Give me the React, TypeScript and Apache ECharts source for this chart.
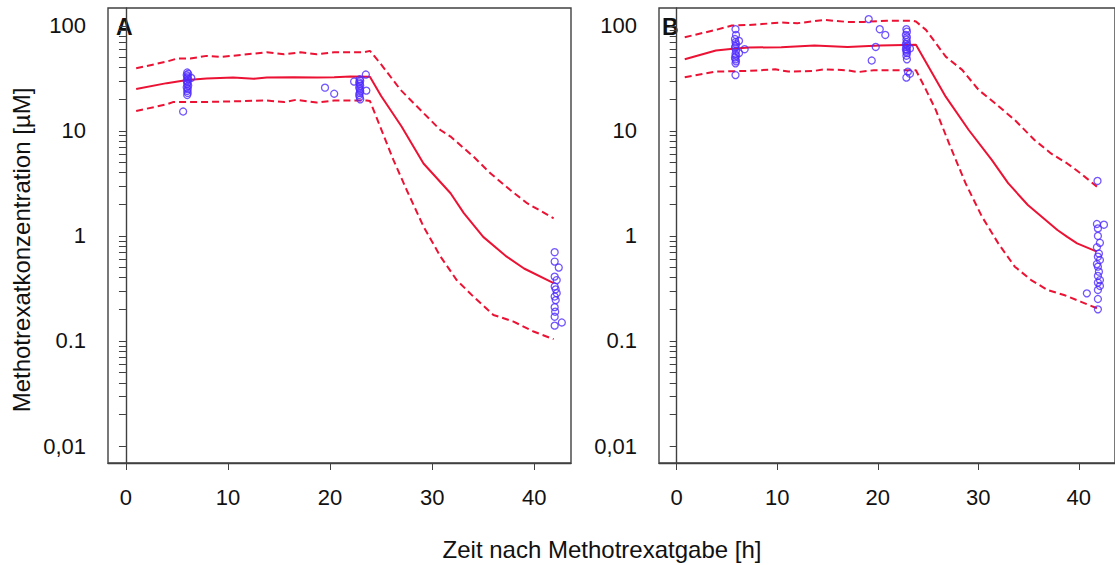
import { useEffect, useRef } from 'react';
import * as echarts from 'echarts';

// Axis ticks
const timeTicks = [0, 10, 20, 30, 40];
const concTicks = [0.01, 0.1, 1, 10, 100];
const concTickLabels = ['0,01', '0.1', '1', '10', '100'];
const concMinorTicks = [
  0.01, 0.02, 0.03, 0.04, 0.05, 0.06, 0.07, 0.08, 0.09,
  0.1, 0.2, 0.3, 0.4, 0.5, 0.6, 0.7, 0.8, 0.9,
  1, 2, 3, 4, 5, 6, 7, 8, 9,
  10, 20, 30, 40, 50, 60, 70, 80, 90,
  100,
];

// Panel A – model prediction (median, 5th and 95th percentile), [h, µM]
const aMedian = [
  [1, 25.1], [4, 28.5], [6, 30.6], [7.9, 31.5], [10.5, 32.2], [12.5, 31.3], [13.8, 32.2],
  [16.4, 32.5], [18.7, 32.2], [20.4, 32.5], [22, 33.0], [23.9, 32.8], [25, 21.5],
  [27, 11.0], [29.15, 4.9], [31.8, 2.55], [33.1, 1.65], [35, 0.98], [37.3, 0.635],
  [39, 0.49], [41.9, 0.355],
];
const aUpper = [
  [1, 39.5], [4, 45.7], [5, 48.9], [6.3, 48.9], [7.9, 51.8], [9.2, 50.6], [11.4, 53],
  [13.8, 56.1], [15.5, 53.7], [17.1, 56], [18.7, 53.7], [20.4, 56], [22, 56], [23.3, 56],
  [23.9, 57.8], [24.9, 44.2], [26.9, 24.6], [29.15, 14.8], [30.8, 10.2], [31.8, 8.83],
  [34.05, 5.69], [35.7, 3.95], [37.65, 2.74], [39.3, 2.05], [41.9, 1.47],
];
const aLower = [
  [1, 15.5], [4, 17.9], [4.6, 18.8], [7.25, 18.8], [10.5, 19.1], [13.8, 19.5], [15.5, 18.8],
  [16.7, 19.8], [18.7, 18.6], [20.4, 19.5], [23.6, 19.5], [23.9, 19.3], [24.9, 11.0],
  [26.2, 5.3], [27.5, 2.74], [29.15, 1.23], [30.8, 0.64], [32.4, 0.38], [34.05, 0.264],
  [36, 0.177], [37.97, 0.153], [39.93, 0.123], [41.9, 0.104],
];
// Panel A – measured concentrations
const aObserved = [
  [6.0, 36], [6.1, 35], [5.95, 34], [6.05, 33], [6.0, 32], [6.1, 31], [5.95, 30], [6.05, 29],
  [6.0, 28], [6.1, 27], [5.95, 26], [6.05, 25], [6.0, 24], [6.05, 23], [6.0, 22], [6.4, 32],
  [5.6, 15.3],
  [19.5, 25.8], [20.4, 22.6],
  [22.35, 29.5], [23.5, 34.4], [23.55, 24.2], [22.9, 31], [22.95, 30], [22.85, 29], [22.9, 28],
  [22.95, 27], [22.85, 26], [22.9, 25], [22.95, 24], [22.9, 23], [22.85, 22], [22.9, 21],
  [22.95, 20],
  [42.0, 0.7], [42.0, 0.57], [42.4, 0.5], [42.0, 0.41], [42.2, 0.38], [42.0, 0.33],
  [42.1, 0.31], [42.2, 0.285], [42.0, 0.265], [42.1, 0.245], [42.0, 0.21], [42.05, 0.19],
  [42.0, 0.17], [42.7, 0.15], [42.0, 0.14],
];

// Panel B – model prediction
const bMedian = [
  [0.8, 48.2], [3.9, 58.2], [5.85, 60.8], [7.2, 62.2], [10.4, 62.7], [13.7, 64.9], [17, 63.1],
  [20.2, 64.9], [23.8, 66], [26.76, 21.2], [29.05, 10.2], [31.34, 5.3], [32.97, 3.18],
  [34.93, 1.97], [37.87, 1.14], [38.85, 0.98], [39.83, 0.85], [41.8, 0.71],
];
const bUpper = [
  [0.8, 78], [3.9, 91.6], [5.5, 100.7], [7.2, 102], [10.4, 107.5], [12, 106], [14.7, 114],
  [17, 109], [18.6, 109], [20.9, 112], [23.5, 112], [23.8, 110], [24.8, 91.6], [26.76, 51],
  [28.4, 38.1], [30.03, 24.6], [31.67, 18.3], [33.63, 12.7], [35.59, 8.2], [37.23, 6.1],
  [38.85, 4.9], [40.17, 3.95], [41.8, 2.95],
];
const bLower = [
  [0.8, 32.4], [3.9, 36.7], [7.2, 37.3], [9.8, 38.6], [11.1, 36.7], [13.7, 37.3], [14.7, 38.6],
  [17, 37.8], [18, 36.3], [19.6, 37.8], [22.3, 37.8], [23.8, 37.8], [24.8, 24.6],
  [25.78, 15.8], [27.09, 7.6], [28.73, 3.18], [30.36, 1.53], [31.99, 0.85], [33.63, 0.51],
  [35.26, 0.38], [36.89, 0.306], [38.53, 0.274], [40.17, 0.237], [41.8, 0.205],
];
// Panel B – measured concentrations
const bObserved = [
  [5.85, 93], [5.9, 82], [5.8, 75], [6.2, 72], [5.85, 70], [5.9, 67], [5.85, 64], [5.8, 62],
  [6.76, 60], [5.9, 58], [6.2, 55], [5.85, 54], [5.9, 52], [5.8, 50], [5.85, 48], [5.9, 46],
  [5.85, 44], [5.85, 34],
  [19.1, 116], [20.2, 93], [20.75, 82], [19.8, 63], [19.4, 46.8],
  [22.85, 93], [22.9, 88], [22.8, 82], [22.9, 78], [22.85, 74], [22.9, 70], [22.8, 67],
  [22.95, 65], [22.85, 63], [23.2, 61], [22.8, 60], [22.9, 59], [22.85, 57], [22.9, 55],
  [22.85, 52], [22.9, 48], [22.85, 32.2], [23.0, 36.7], [23.2, 35],
  [41.86, 3.34], [41.8, 1.3], [42.5, 1.28], [41.9, 1.18], [41.9, 1.0], [42.1, 0.86],
  [41.8, 0.78], [42.0, 0.68], [41.9, 0.635], [42.1, 0.59], [41.8, 0.54], [41.9, 0.51],
  [42.0, 0.457], [41.9, 0.416], [42.1, 0.38], [41.9, 0.36], [42.1, 0.334], [41.9, 0.306],
  [40.8, 0.284], [41.9, 0.251], [41.9, 0.2],
];

const FONT = "'Liberation Sans', Arial, sans-serif";
const RED = '#eb1234';
const BLUE = '#4f2bff';
const FRAME = '#404040';
const TEXT = '#111111';

const panels = [
  { median: aMedian, upper: aUpper, lower: aLower, observed: aObserved },
  { median: bMedian, upper: bUpper, lower: bLower, observed: bObserved },
];

export default function App() {
  const ref = useRef<HTMLDivElement>(null);

  useEffect(() => {
    if (!ref.current) return;
    const chart = echarts.init(ref.current, null, { renderer: 'svg' });

    const grids = [
      { left: 108, top: 8, width: 463, height: 455 },
      { left: 659, top: 8, width: 463, height: 455 },
    ].map((g) => ({ ...g, show: true, borderColor: FRAME, borderWidth: 1.4, backgroundColor: 'transparent' }));

    const xAxes = grids.map((_, i) => ({
      type: 'value',
      gridIndex: i,
      min: -1.76,
      max: 43.6,
      axisLine: { show: true, onZero: false, lineStyle: { color: FRAME, width: 1.4 } },
      axisTick: { show: true, length: 7, customValues: timeTicks, lineStyle: { color: FRAME, width: 1 } },
      axisLabel: {
        customValues: timeTicks,
        margin: 23,
        fontSize: 22,
        fontFamily: FONT,
        color: TEXT,
      },
      splitLine: { show: false },
    }));

    const yAxes = grids.map((_, i) => ({
      type: 'log',
      logBase: 10,
      gridIndex: i,
      min: 0.00689,
      max: 148,
      axisLine: { show: true, lineStyle: { color: FRAME, width: 1.4 } },
      axisTick: { show: true, length: 7, customValues: concMinorTicks, lineStyle: { color: FRAME, width: 1 } },
      axisLabel: {
        customValues: concTicks,
        formatter: (v: number) => {
          const k = concTicks.findIndex((t) => Math.abs(Math.log10(t) - Math.log10(v)) < 1e-6);
          return k >= 0 ? concTickLabels[k] : '';
        },
        margin: 22,
        fontSize: 22,
        fontFamily: FONT,
        color: TEXT,
      },
      splitLine: { show: false },
      minorTick: { show: false },
    }));

    const series: any[] = [];
    panels.forEach((p, i) => {
      const base = { xAxisIndex: i, yAxisIndex: i, showSymbol: false, symbol: 'none', z: 2 };
      series.push({
        ...base,
        type: 'line',
        data: p.upper,
        lineStyle: { color: RED, width: 2, type: [7, 4] },
      });
      series.push({
        ...base,
        type: 'line',
        data: p.lower,
        lineStyle: { color: RED, width: 2, type: [7, 4] },
      });
      series.push({
        ...base,
        type: 'line',
        data: p.median,
        lineStyle: { color: RED, width: 2 },
      });
      series.push({
        type: 'scatter',
        xAxisIndex: i,
        yAxisIndex: i,
        data: p.observed,
        symbol: 'circle',
        symbolSize: 7,
        itemStyle: { color: 'transparent', borderColor: BLUE, borderWidth: 1.3 },
        z: 3,
      });
    });

    chart.setOption({
      animation: false,
      backgroundColor: '#ffffff',
      grid: grids,
      xAxis: xAxes,
      yAxis: yAxes,
      series,
      graphic: [
        {
          type: 'text',
          left: 116,
          top: 15,
          style: { text: 'A', fontSize: 23, fontWeight: 'bold', fontFamily: FONT, fill: TEXT },
        },
        {
          type: 'text',
          left: 662,
          top: 15,
          style: { text: 'B', fontSize: 23, fontWeight: 'bold', fontFamily: FONT, fill: TEXT },
        },
        {
          type: 'text',
          x: 21,
          y: 250,
          rotation: Math.PI / 2,
          style: {
            text: 'Methotrexatkonzentration [µM]',
            fontSize: 24,
            fontFamily: FONT,
            fill: TEXT,
            align: 'center',
            verticalAlign: 'middle',
          },
        },
        {
          type: 'text',
          x: 602,
          y: 549,
          style: {
            text: 'Zeit nach Methotrexatgabe [h]',
            fontSize: 24,
            fontFamily: FONT,
            fill: TEXT,
            align: 'center',
            verticalAlign: 'middle',
          },
        },
      ],
    });

    return () => chart.dispose();
  }, []);

  return (
    <div
      ref={ref}
      style={{ position: 'fixed', left: 0, top: 0, width: 1115, height: 565, background: '#fff' }}
    />
  );
}
